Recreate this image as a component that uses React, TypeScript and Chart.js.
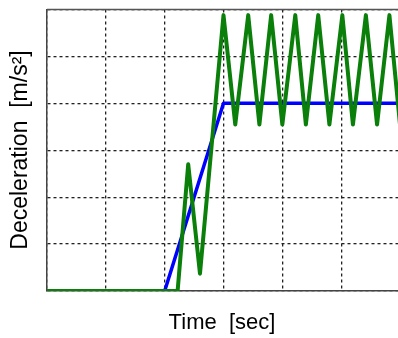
import React, { useEffect, useRef } from "react";
import { Chart, registerables } from "chart.js";

Chart.register(...registerables);

const commandTime = [0, 2.0, 3.0, 6.0];
const commandDecel = [0, 0, 4, 4];

const measuredTime = [0, 2.22, 2.4, 2.6, 3.0, 3.2, 3.42, 3.61, 3.81, 4.0, 4.22, 4.4, 4.61, 4.8, 5.02, 5.2, 5.42, 5.61, 5.82, 6.0];
const measuredDecel = [0, 0, 2.7, 0.37, 5.88, 3.55, 5.88, 3.55, 5.88, 3.55, 5.88, 3.55, 5.88, 3.55, 5.88, 3.55, 5.88, 3.55, 5.88, 3.55];

const xTicks = [0, 1, 2, 3, 4, 5, 6];
const yTicks = [0, 1, 2, 3, 4, 5, 6];

const xLabel = "Time  [sec]";
const yLabel = "Deceleration  [m/s²]";

export default function App() {
  const ref = useRef<HTMLCanvasElement | null>(null);

  useEffect(() => {
    if (!ref.current) return;
    const labelsPlugin = {
      id: "labelsPlugin",
      afterDraw(chart: any) {
        const { ctx, chartArea } = chart;
        ctx.save();
        ctx.strokeStyle = "#555";
        ctx.lineWidth = 1.5;
        ctx.beginPath();
        ctx.moveTo(chartArea.left, chartArea.top);
        ctx.lineTo(chartArea.right, chartArea.top);
        ctx.stroke();
        ctx.fillStyle = "#000";
        ctx.textAlign = "center";
        ctx.textBaseline = "middle";
        ctx.font = "22px 'Liberation Sans', Arial, sans-serif";
        ctx.fillText(xLabel, 222, 323);
        ctx.translate(21, 150);
        ctx.rotate(-Math.PI / 2);
        ctx.font = "23px 'Liberation Sans', Arial, sans-serif";
        ctx.fillText(yLabel, 0, 0);
        ctx.restore();
      },
    };
    const chart = new Chart(ref.current, {
      type: "line",
      data: {
        datasets: [
          {
            label: "measured",
            data: measuredTime.map((t, i) => ({ x: t, y: measuredDecel[i] })),
            borderColor: "#0a7f0a",
            borderWidth: 4,
            borderJoinStyle: "round",
            borderCapStyle: "round",
            pointRadius: 0,
            tension: 0,
            order: 0,
          },
          {
            label: "command",
            data: commandTime.map((t, i) => ({ x: t, y: commandDecel[i] })),
            borderColor: "#0000ff",
            borderWidth: 3.5,
            borderJoinStyle: "round",
            pointRadius: 0,
            tension: 0,
            order: 1,
          },
        ],
      },
      options: {
        animation: false,
        responsive: false,
        maintainAspectRatio: false,
        events: [],
        layout: { padding: { left: 0, right: 20, top: 9.5, bottom: 0 } },
        plugins: { legend: { display: false }, tooltip: { enabled: false } },
        scales: {
          x: {
            type: "linear",
            min: 0,
            max: 6,
            afterBuildTicks: (s: any) => {
              s.ticks = xTicks.map((v) => ({ value: v }));
            },
            afterFit: (s: any) => {
              s.height = 47;
            },
            ticks: { display: false },
            grid: { color: "#222", lineWidth: 1.3, drawTicks: false },
            border: { display: true, color: "#444", width: 1.5, dash: [3, 3] },
          },
          y: {
            type: "linear",
            min: 0,
            max: 6,
            afterBuildTicks: (s: any) => {
              s.ticks = yTicks.map((v) => ({ value: v }));
            },
            afterFit: (s: any) => {
              s.width = 47;
            },
            ticks: { display: false },
            grid: { color: "#222", lineWidth: 1.3, drawTicks: false },
            border: { display: true, color: "#444", width: 1.5, dash: [3, 3] },
          },
        },
      },
      plugins: [labelsPlugin],
    });
    return () => chart.destroy();
  }, []);

  return (
    <div style={{ position: "fixed", left: 0, top: 0, width: 398, height: 338, overflow: "hidden", background: "#fff" }}>
      <canvas ref={ref} width={420} height={338} style={{ display: "block" }} />
    </div>
  );
}
